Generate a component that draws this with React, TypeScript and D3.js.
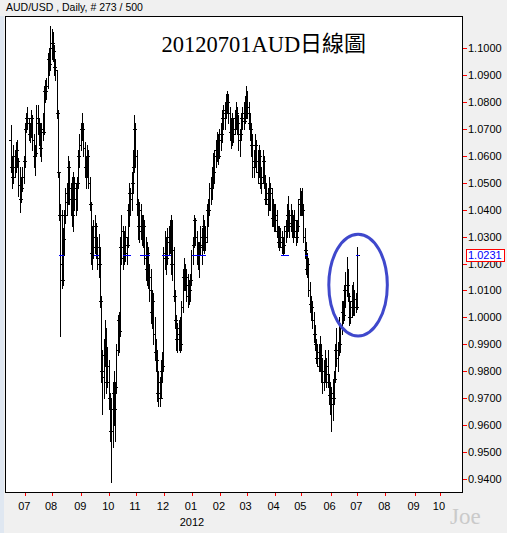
import React from "react";
import * as d3 from "d3";

// ---------- labels ----------
const symbolLabel = "AUD/USD , Daily, # 273 / 500";
const chartTitle = "20120701AUD";
const chartTitleCJK = "日線圖";
const watermark = "Joe";
const yearLabel = "2012";

// ---------- calendar (weekday bars) ----------
const firstBarDate = "2011-06-15";
const axisEndDate = "2012-10-31";

// ---------- OHLC data (pips, 1.0000 = 10000), open = previous close ----------
const firstOpen = 10660;
const barHigh = [
  // Jun 2011
  10714, 10600, 10640, 10620, 10650, 10660, 10590, 10560, 10520, 10560, 10600, 10720,
  // Jul 2011
  10760, 10780, 10740, 10720, 10770, 10750, 10680, 10640, 10790, 10790, 10740, 10720, 10720, 10760, 10860, 10880, 10890, 10980, 11000, 11080, 11070,
  // Aug 2011
  11060, 11010, 10960, 10920, 10770, 10540, 10420, 10400, 10330, 10400, 10480, 10500, 10600, 10580, 10500, 10520, 10540, 10520, 10500, 10520, 10620, 10680, 10720,
  // Sep 2011
  10760, 10720, 10650, 10600, 10640, 10620, 10520, 10430, 10340, 10360, 10380, 10350, 10300, 10310, 10260, 10080, 9880, 9920, 9990, 9960, 9890, 9840,
  // Oct 2011
  9720, 9700, 9760, 9800, 9760, 9900, 10010, 10020, 10300, 10380, 10340, 10320, 10340, 10300, 10420, 10500, 10480, 10540, 10620, 10750, 10720,
  // Nov 2011
  10620, 10440, 10430, 10420, 10380, 10380, 10360, 10300, 10280, 10260, 10200, 10180, 10100, 10090, 10000, 9920, 9880, 9800, 9780, 9840, 9870, 10260,
  // Dec 2011
  10320, 10300, 10330, 10340, 10360, 10380, 10360, 10260, 10100, 10010, 9980, 9990, 10000, 10060, 10180, 10220, 10200, 10180, 10160, 10140, 10160, 10250,
  // Jan 2012
  10300, 10380, 10370, 10320, 10280, 10280, 10340, 10330, 10380, 10360, 10340, 10420, 10440, 10500, 10520, 10560, 10610, 10620, 10660, 10690, 10680, 10700,
  // Feb 2012
  10720, 10770, 10790, 10800, 10830, 10840, 10830, 10780, 10740, 10760, 10740, 10770, 10800, 10780, 10750, 10700, 10760, 10780, 10800, 10820, 10860,
  // Mar 2012
  10840, 10800, 10760, 10720, 10680, 10620, 10680, 10660, 10620, 10640, 10620, 10560, 10620, 10600, 10530, 10500, 10480, 10520, 10500, 10480, 10440, 10420,
  // Apr 2012
  10420, 10400, 10340, 10340, 10330, 10320, 10300, 10340, 10360, 10420, 10450, 10400, 10420, 10400, 10380, 10400, 10360, 10360, 10440, 10480, 10470,
  // May 2012
  10480, 10420, 10330, 10280, 10240, 10220, 10130, 10080, 10060, 10020, 9970, 9920, 9900, 9900, 9930, 9900, 9850, 9840, 9880, 9850, 9880, 9790, 9760,
  // Jun 2012
  9740, 9770, 9800, 9900, 9960, 9910, 10000, 9980, 10060, 10060, 10120, 10170, 10225, 10180, 10090, 10060, 10120, 10130, 10100, 10090, 10260,
];
const barLow = [
  10540, 10480, 10500, 10520, 10540, 10560, 10450, 10390, 10430, 10470, 10500, 10560,
  10690, 10700, 10660, 10650, 10670, 10620, 10560, 10530, 10600, 10680, 10640, 10600, 10580, 10660, 10680, 10800, 10810, 10850, 10900, 10920, 10960,
  10950, 10900, 10880, 10740, 10520, 10360, 9930, 10110, 10120, 10230, 10350, 10380, 10420, 10420, 10380, 10340, 10320, 10400, 10380, 10400, 10480, 10560, 10620,
  10660, 10600, 10520, 10480, 10520, 10480, 10400, 10200, 10180, 10220, 10240, 10220, 10180, 10150, 10040, 9760, 9640, 9700, 9820, 9720, 9740, 9660,
  9540, 9390, 9520, 9600, 9540, 9720, 9860, 9870, 9930, 10200, 10180, 10200, 10210, 10200, 10260, 10340, 10380, 10400, 10460, 10540, 10560,
  10380, 10290, 10280, 10290, 10270, 10260, 10200, 10140, 10120, 10110, 10060, 9980, 9960, 9900, 9840, 9800, 9690, 9670, 9670, 9700, 9760, 9800,
  10180, 10160, 10200, 10230, 10240, 10160, 10140, 10060, 9960, 9880, 9870, 9880, 9870, 9880, 10020, 10100, 10100, 10060, 10040, 10050, 10060, 10120,
  10200, 10260, 10270, 10200, 10180, 10150, 10230, 10200, 10250, 10240, 10250, 10280, 10340, 10380, 10420, 10440, 10480, 10500, 10560, 10580, 10570, 10590,
  10620, 10650, 10700, 10700, 10740, 10760, 10720, 10660, 10630, 10640, 10650, 10680, 10700, 10680, 10620, 10600, 10660, 10700, 10700, 10720, 10740,
  10740, 10700, 10660, 10600, 10520, 10520, 10560, 10540, 10500, 10520, 10480, 10460, 10500, 10480, 10420, 10420, 10380, 10400, 10400, 10340, 10340, 10320,
  10320, 10300, 10260, 10250, 10260, 10240, 10230, 10240, 10280, 10300, 10320, 10300, 10320, 10300, 10280, 10300, 10270, 10280, 10320, 10380, 10380,
  10380, 10280, 10220, 10160, 10150, 10080, 10020, 9990, 9960, 9910, 9880, 9830, 9820, 9800, 9800, 9760, 9720, 9730, 9760, 9740, 9740, 9680, 9640,
  9580, 9620, 9680, 9760, 9820, 9800, 9860, 9870, 9940, 9980, 9990, 10040, 10080, 10060, 9970, 9980, 10000, 10010, 10010, 10020, 10030,
];
const barClose = [
  10560, 10520, 10600, 10560, 10620, 10580, 10490, 10440, 10480, 10520, 10580, 10700,
  10740, 10720, 10680, 10700, 10740, 10660, 10600, 10610, 10740, 10720, 10680, 10630, 10700, 10690, 10840, 10840, 10860, 10960, 10940, 11000, 11020,
  10990, 10930, 10920, 10760, 10540, 10380, 10200, 10140, 10290, 10380, 10460, 10430, 10560, 10440, 10480, 10380, 10500, 10440, 10480, 10500, 10600, 10640, 10700,
  10700, 10630, 10560, 10540, 10600, 10500, 10420, 10240, 10300, 10260, 10340, 10260, 10220, 10200, 10060, 9800, 9780, 9860, 9880, 9760, 9820, 9700,
  9580, 9660, 9720, 9660, 9740, 9880, 9990, 9950, 10260, 10320, 10220, 10300, 10240, 10270, 10400, 10460, 10440, 10500, 10560, 10700, 10600,
  10420, 10340, 10400, 10320, 10300, 10340, 10220, 10180, 10240, 10150, 10100, 10020, 10060, 9940, 9870, 9840, 9720, 9760, 9700, 9800, 9820, 10220,
  10240, 10220, 10300, 10280, 10260, 10200, 10250, 10080, 9990, 9920, 9940, 9960, 9900, 10040, 10150, 10180, 10150, 10120, 10080, 10100, 10140, 10230,
  10270, 10360, 10300, 10230, 10240, 10260, 10300, 10270, 10340, 10280, 10300, 10400, 10400, 10480, 10480, 10520, 10540, 10600, 10620, 10650, 10600, 10660,
  10680, 10740, 10760, 10770, 10800, 10800, 10760, 10690, 10720, 10680, 10700, 10740, 10760, 10720, 10660, 10680, 10740, 10760, 10730, 10800, 10760,
  10780, 10720, 10700, 10640, 10560, 10580, 10640, 10580, 10540, 10600, 10500, 10520, 10580, 10500, 10440, 10460, 10420, 10480, 10460, 10370, 10400, 10360,
  10380, 10320, 10280, 10300, 10280, 10260, 10270, 10320, 10340, 10380, 10340, 10380, 10350, 10320, 10360, 10320, 10300, 10340, 10420, 10440, 10420,
  10400, 10300, 10250, 10180, 10200, 10100, 10050, 10040, 9990, 9940, 9900, 9850, 9870, 9820, 9860, 9800, 9760, 9800, 9790, 9820, 9760, 9710, 9680,
  9720, 9700, 9770, 9880, 9850, 9880, 9900, 9960, 10020, 10010, 10100, 10120, 10120, 10080, 10000, 10040, 10060, 10040, 10070, 10040, 10231,
];

// ---------- current price & its blue marks ----------
const lastPrice = 1.0231;
const priceMarkRanges: [string, string][] = [
  ["2011-08-09", "2011-08-10"],
  ["2011-09-15", "2011-09-19"],
  ["2011-10-18", "2011-10-24"],
  ["2011-11-04", "2011-11-14"],
  ["2011-11-30", "2011-12-06"],
  ["2012-01-02", "2012-01-05"],
  ["2012-01-10", "2012-01-13"],
  ["2012-04-09", "2012-04-13"],
  ["2012-05-04", "2012-05-04"],
  ["2012-06-29", "2012-06-29"],
];

// ---------- hand-drawn highlight ellipse (in data space) ----------
const highlightCenterDate = "2012-07-02";
const highlightCenterValue = 1.012;
const highlightHalfBars = 23;
const highlightHalfValue = 0.0189;

const yDomain = [0.94, 1.1];

export default function App() {
  const W = 507;
  const H = 533;
  const plot = { left: 5, top: 16, right: 462, bottom: 492 };

  const parse = d3.timeParse("%Y-%m-%d");
  const fmtDay = d3.timeFormat("%Y-%m-%d");
  const fmtMonth = d3.timeFormat("%m");
  const days = d3.timeDay
    .range(parse(firstBarDate)!, d3.timeDay.offset(parse(axisEndDate)!, 1))
    .filter((d) => d.getDay() !== 0 && d.getDay() !== 6);
  const idx = new Map<string, number>(days.map((d, i) => [fmtDay(d), i]));

  const x = d3.scaleLinear().domain([-3.96, 355.3]).range([plot.left, plot.right]);
  const y = d3.scaleLinear().domain(yDomain).range([479, 48]);
  const barX = (i: number) => Math.round(x(i + 0.6)) + 0.5;
  const py = (v: number) => Math.round(y(v / 10000));

  // bars path
  let path = "";
  for (let i = 0; i < barHigh.length; i++) {
    const bx = barX(i);
    const o = i === 0 ? firstOpen : barClose[i - 1];
    const yh = py(barHigh[i]);
    const yl = py(barLow[i]);
    path += `M${bx},${yh}V${yl + 1}`;
    const yo = py(o) + 0.5;
    const yc = py(barClose[i]) + 0.5;
    path += `M${bx - 2.5},${yo}H${bx}`;
    path += `M${bx},${yc}H${bx + 2.5}`;
  }

  // month ticks
  const monthTicks: { i: number; d: Date }[] = [];
  for (let i = 1; i < days.length; i++) {
    if (days[i].getMonth() !== days[i - 1].getMonth()) monthTicks.push({ i, d: days[i] });
  }
  const visibleTicks = monthTicks.filter((t) => x(t.i) < plot.right);

  const yTicks = y.ticks(16);
  const fmtY = d3.format(".4f");
  const priceY = Math.round(y(lastPrice)) + 0.5;

  const hcx = x(idx.get(highlightCenterDate)! + 0.6);
  const hcy = y(highlightCenterValue);
  const hrx = x(highlightHalfBars) - x(0);
  const hry = y(highlightCenterValue - highlightHalfValue) - hcy;

  const sans = "'Liberation Sans', Arial, sans-serif";
  const serif = "'Liberation Serif', 'Times New Roman', serif";

  return (
    <div style={{ position: "absolute", left: 0, top: 0 }}>
      <svg width={W} height={H} style={{ display: "block" }}>
        <rect x={0} y={0} width={W} height={H} fill="#f0f0f0" />
        <rect x={0} y={plot.top} width={4} height={H - plot.top} fill="#dfe7f1" />
        <text x={6} y={11} fontFamily={sans} fontSize={10.5} fill="#000">
          {symbolLabel}
        </text>
        {/* plot area */}
        <rect
          x={plot.left + 0.5}
          y={plot.top + 0.5}
          width={plot.right - plot.left}
          height={plot.bottom - plot.top}
          fill="#ffffff"
          stroke="#000"
          strokeWidth={1}
          shapeRendering="crispEdges"
        />
        <text x={161.5} y={52} fontFamily={serif} fontSize={22.5} fill="#000">
          {chartTitle}
        </text>
        <text x={300} y={51} fontFamily="'Noto Sans CJK TC', 'Noto Sans CJK SC', sans-serif" fontSize={22} fill="#000">
          {chartTitleCJK}
        </text>
        <path d={path} stroke="#000" strokeWidth={1} fill="none" shapeRendering="crispEdges" />
        {priceMarkRanges.map(([a, b], k) => (
          <line
            key={k}
            x1={barX(idx.get(a)!) - 1.5}
            x2={barX(idx.get(b)!) + 1.5}
            y1={priceY}
            y2={priceY}
            stroke="#0000ff"
            strokeWidth={1}
            shapeRendering="crispEdges"
          />
        ))}
        {/* y axis */}
        {yTicks.map((v) => {
          const ty = Math.round(y(v)) + 0.5;
          return (
            <g key={v}>
              <line x1={plot.right + 1} x2={plot.right + 5} y1={ty} y2={ty} stroke="#ff0000" shapeRendering="crispEdges" />
              <text x={468} y={ty} dy="0.36em" fontFamily={sans} fontSize={11} fill="#000">
                {fmtY(v)}
              </text>
            </g>
          );
        })}
        <rect x={466.5} y={priceY - 6} width={38} height={12} fill="#fff" stroke="#ff0000" shapeRendering="crispEdges" />
        <text x={468} y={priceY} dy="0.36em" fontFamily={sans} fontSize={11} fill="#0000ff">
          {fmtY(lastPrice)}
        </text>
        {/* x axis */}
        {visibleTicks.map((t) => {
          const tx = Math.round(x(t.i)) + 0.5;
          return (
            <g key={t.i}>
              <line x1={tx} x2={tx} y1={plot.bottom + 1} y2={plot.bottom + 4} stroke="#ff0000" shapeRendering="crispEdges" />
              <text x={x(t.i) - 1} y={509.5} textAnchor="middle" fontFamily={sans} fontSize={11} fill="#000">
                {fmtMonth(t.d)}
              </text>
              {t.d.getMonth() === 0 && (
                <text x={x(t.i)} y={525.5} textAnchor="middle" fontFamily={sans} fontSize={11} fill="#000">
                  {yearLabel}
                </text>
              )}
            </g>
          );
        })}
        {/* highlight ellipse */}
        <ellipse cx={hcx} cy={hcy} rx={hrx} ry={hry} fill="none" stroke="#3f48cc" strokeWidth={3} />
        <text x={450} y={524} fontFamily={serif} fontSize={23} fill="#cacaca">
          {watermark}
        </text>
      </svg>
    </div>
  );
}
